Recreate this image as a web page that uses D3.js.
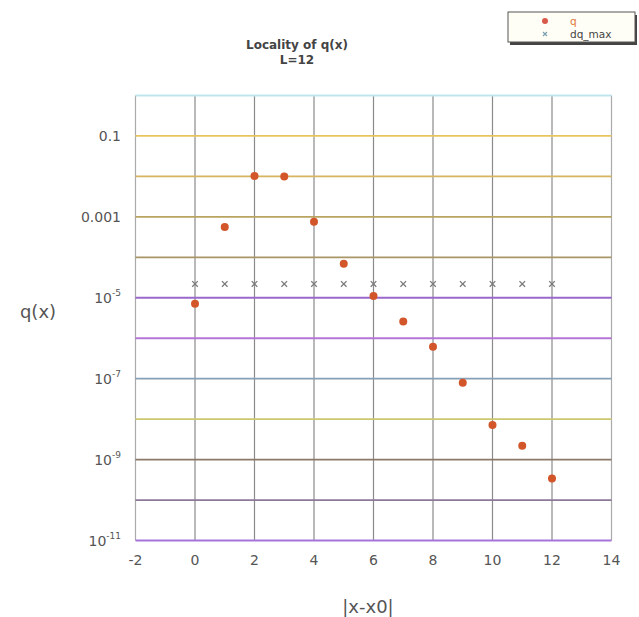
<!DOCTYPE html>
<html><head><meta charset="utf-8">
<script src="https://cdn.jsdelivr.net/npm/d3@7"></script>
<style>body{margin:0;background:#fff}svg{display:block}</style>
</head><body>
<script>
const xs = [0,1,2,3,4,5,6,7,8,9,10,11,12];
const qValues = [7.1e-6,5.6e-4,1.02e-2,1.0e-2,7.6e-4,6.9e-5,1.1e-5,2.6e-6,6.2e-7,7.9e-8,7.2e-9,2.2e-9,3.4e-10];
const dqMaxValues = [2.2e-5,2.2e-5,2.2e-5,2.2e-5,2.2e-5,2.2e-5,2.2e-5,2.2e-5,2.2e-5,2.2e-5,2.2e-5,2.2e-5,2.2e-5];
const xTicks = [-2,0,2,4,6,8,10,12,14];
const yTickExps = [-1,-3,-5,-7,-9,-11];
const yTickLabels = ["0.1","0.001","10|-5","10|-7","10|-9","10|-11"];
const gridExps = [0,-1,-2,-3,-4,-5,-6,-7,-8,-9,-10,-11];
const gridColors = ["#bfe6ee","#e8c460","#d8b460","#b8a460","#a89666","#9a68cc","#b476d6","#86a0b8","#ccc870","#8c7a68","#8c7898","#a474da"];

const W=639,H=617;
const svg=d3.select("body").append("svg").attr("width",W).attr("height",H);
const font="DejaVu Sans, sans-serif";
const x=d3.scaleLinear().domain([-2,14]).range([135.5,611.5]);
const y=d3.scaleLog().domain([1,1e-11]).range([95.5,540.5]);

// vertical grid
svg.append("g").selectAll("line").data(xTicks).join("line")
  .attr("x1",d=>x(d)).attr("x2",d=>x(d)).attr("y1",y(1)).attr("y2",y(1e-11))
  .attr("stroke",d=>(d===-2||d===14)?"#aaa":"#8a8a8a").attr("stroke-width",1.2);
// horizontal grid
svg.append("g").selectAll("line").data(gridExps).join("line")
  .attr("x1",x(-2)).attr("x2",x(14))
  .attr("y1",d=>y(Math.pow(10,d))).attr("y2",d=>y(Math.pow(10,d)))
  .attr("stroke",(d,i)=>gridColors[i]).attr("stroke-width",1.8);

// x tick labels
svg.append("g").selectAll("text").data(xTicks).join("text")
  .attr("x",d=>x(d)).attr("y",565).attr("text-anchor","middle")
  .attr("font-family",font).attr("font-size",14).attr("fill","#555")
  .text(d=>d);
// y tick labels
const yl=svg.append("g");
yTickExps.forEach((e,i)=>{
  const lab=yTickLabels[i];
  const t=yl.append("text").attr("x",121).attr("y",y(Math.pow(10,e))+5)
    .attr("text-anchor","end").attr("font-family",font).attr("font-size",14).attr("fill","#555");
  if(lab.includes("|")){
    const [b,p]=lab.split("|");
    t.append("tspan").text(b);
    t.append("tspan").attr("dy",-7).attr("font-size",9).text(p);
  } else t.text(lab);
});

// axis titles
svg.append("text").attr("x",368).attr("y",613).attr("text-anchor","middle")
  .attr("font-family",font).attr("font-size",18).attr("fill","#555").text("|x-x0|");
svg.append("text").attr("x",38).attr("y",318).attr("text-anchor","middle")
  .attr("font-family",font).attr("font-size",18).attr("fill","#555").text("q(x)");
svg.append("text").attr("x",297).attr("y",49).attr("text-anchor","middle")
  .attr("font-family",font).attr("font-size",12).attr("font-weight","bold").attr("fill","#444").text("Locality of q(x)");
svg.append("text").attr("x",297).attr("y",64).attr("text-anchor","middle")
  .attr("font-family",font).attr("font-size",12).attr("font-weight","bold").attr("fill","#444").text("L=12");

// dq_max marks
const s=2.8;
svg.append("g").selectAll("path").data(xs.map((d,i)=>[d,dqMaxValues[i]])).join("path")
  .attr("d",d=>{const cx=x(d[0]),cy=y(d[1]);return `M${cx-s},${cy-s}L${cx+s},${cy+s}M${cx-s},${cy+s}L${cx+s},${cy-s}`;})
  .attr("stroke","#7a7a7a").attr("stroke-width",1.3).attr("fill","none");
// q points
svg.append("g").selectAll("circle").data(xs.map((d,i)=>[d,qValues[i]])).join("circle")
  .attr("cx",d=>x(d[0])).attr("cy",d=>y(d[1])).attr("r",4)
  .attr("fill","#d2562a");

// legend
const lg=svg.append("g");
lg.append("rect").attr("x",510).attr("y",15).attr("width",127).attr("height",30).attr("fill","#444");
lg.append("rect").attr("x",508).attr("y",12).attr("width",127).attr("height",30).attr("fill","#fffef6").attr("stroke","#555").attr("stroke-width",1);
lg.append("circle").attr("cx",545).attr("cy",21).attr("r",3).attr("fill","#d85a4a");
lg.append("text").attr("x",570).attr("y",25).attr("font-family",font).attr("font-size",10.5).attr("fill","#e07a3a").text("q");
lg.append("path").attr("d","M543,32L547,36M543,36L547,32").attr("stroke","#7aa0b0").attr("stroke-width",1.2);
lg.append("text").attr("x",570).attr("y",38).attr("font-family",font).attr("font-size",10.5).attr("fill","#444").text("dq_max");
</script>
</body></html>
